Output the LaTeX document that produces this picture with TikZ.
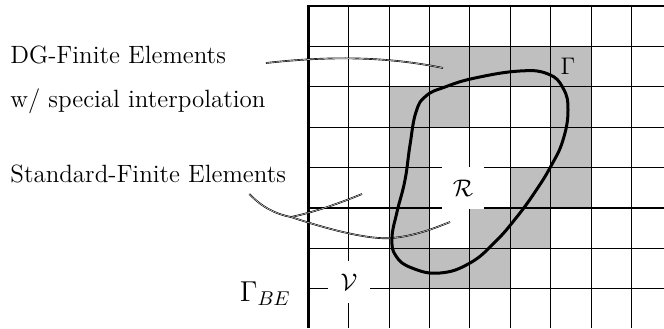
\documentclass[tikz,border=0pt]{standalone}
\usepackage{amsmath, amssymb}
\usepackage{tikz}
\usetikzlibrary{calc}
\definecolor{CellGray}{RGB}{191, 191, 191}

\begin{document}
\begin{tikzpicture}[x=0.5pt, y=-0.5pt, font=\fontsize{12.5}{15}\selectfont,
  gridline/.style={line width=0.55pt},
  leader/.style={line width=0.32pt, double=white, double distance=0.2pt},
  sidetext/.style={anchor=base west, inner sep=0pt},
  blank/.style={fill=white, minimum size=21pt, inner sep=0pt}]
  \useasboundingbox (0,0) rectangle (664,328);

  \begin{scope}
    \clip (0,0) rectangle (664,328);
    % Gray cells
    \foreach \c/\r in {3/1,4/1,5/1,6/1,2/2,3/2,6/2,2/3,6/3,2/4,5/4,6/4,2/5,4/5,5/5,2/6,3/6,4/6}
      \fill[CellGray] ({308.3+40.4*\c},{6+40.4*\r}) rectangle ++(40.4,40.4);
    % Grid
    \foreach \i in {1,...,9}
      \draw[gridline] ({308.3+40.4*\i},6) -- ({308.3+40.4*\i},328);
    \foreach \j in {1,...,8}
      \draw[gridline] (308.3,{6+40.4*\j}) -- (664,{6+40.4*\j});
    % Outer edge
    \draw[line width=1.2pt] (308.3,328) -- (308.3,6) -- (664,6);
  \end{scope}

  % Labels on the left
  \node[sidetext] (dgtext) at (10,63) {DG-Finite Elements};
  \node[sidetext] (dgsub) at (10,107) {w/ special interpolation};
  \node[sidetext] (stdtext) at (10,182) {Standard-Finite Elements};
  \node[anchor=base east, inner sep=0pt, font=\fontsize{14}{17}\selectfont] (gammaBE) at (291,301) {$\Gamma_{BE}$};

  % Leader lines
  \coordinate (dgend) at (443,68);
  \coordinate (stdfork) at (291,217);
  \coordinate (stdendA) at (362,194);
  \coordinate (stdendB) at (450,222);
  \draw[leader] (dgsub.east |- dgtext.base) .. controls (320,57) and (380,55) .. (dgend);
  \draw[leader] ($(stdtext.base east)+(-37,12)$) .. controls (262,207) and (275,214) .. (stdfork);
  \draw[leader] (stdfork) .. controls (315,212) and (340,203) .. (stdendA);
  \draw[leader] (stdfork) .. controls (330,230) and (370,240) .. (392,238)
    .. controls (415,236) and (435,228) .. (stdendB);

  % Boundary curve
  \draw[line width=1.5pt] plot[smooth cycle, tension=0.75] coordinates {
    (445,87) (475,78) (520,71) (548,74) (563,88) (568,110)
    (563,140) (551,166) (535,192) (516,218) (495,242) (470,263)
    (440,273) (412,268) (396,256) (392,238) (397,212) (405,180)
    (410,145) (416,112) (426,96)
  };
  \node (gammaLbl) at (568,66) {$\Gamma$};

  % Region and volume labels
  \node[blank] (regionR) at (463,188) {$\mathcal{R}$};
  \node[blank] (volV) at (349,282) {$\mathcal{V}$};
\end{tikzpicture}
\end{document}
